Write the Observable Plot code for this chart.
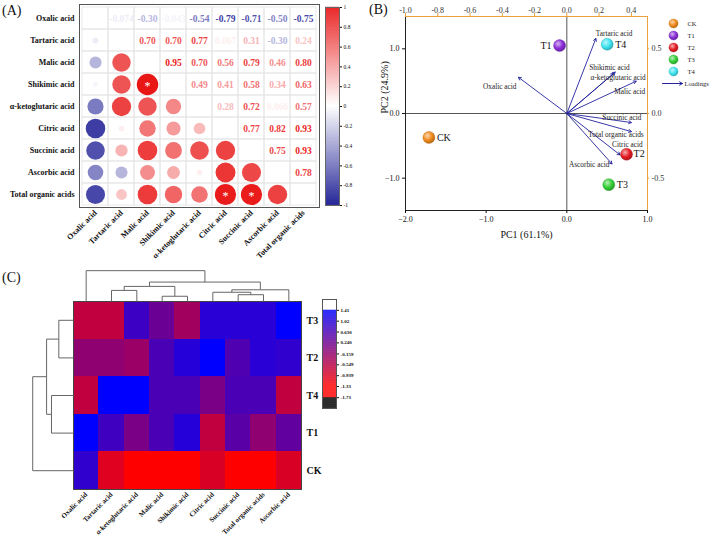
<!DOCTYPE html>
<html><head><meta charset="utf-8">
<script src="https://cdn.jsdelivr.net/npm/d3@7"></script>
<script src="https://cdn.jsdelivr.net/npm/@observablehq/plot@0.6"></script>
<style>
html,body{margin:0;padding:0;background:#fff;}
#wrap{position:relative;width:713px;height:537px;overflow:hidden;background:#fff;font-family:"Liberation Serif",serif;}
.panel{position:absolute;font-size:14px;line-height:1;color:#111;font-family:"Liberation Serif",serif;}
</style></head><body><div id="wrap"></div>
<script>
// ---------- DATA: (A) correlation matrix ----------
const acids = ["Oxalic acid","Tartaric acid","Malic acid","Shikimic acid","α-ketoglutaric acid","Citric acid","Succinic acid","Ascorbic acid","Total organic acids"];
// upper triangle, row by row (columns after the diagonal)
const corrOxalic    = [-0.074,-0.30,-0.043,-0.54,-0.79,-0.71,-0.50,-0.75];
const corrTartaric  = [0.70,0.70,0.77,0.067,0.31,-0.30,0.24];
const corrMalic     = [0.95,0.70,0.56,0.79,0.46,0.80];
const corrShikimic  = [0.49,0.41,0.58,0.34,0.63];
const corrKeto      = [0.28,0.72,0.066,0.57];
const corrCitric    = [0.77,0.82,0.93];
const corrSuccinic  = [0.75,0.93];
const corrAscorbic  = [0.78];
const significantPairs = [["Shikimic acid","Malic acid"],["Total organic acids","Citric acid"],["Total organic acids","Succinic acid"]];
const corrBarTicks = [-1,-0.8,-0.6,-0.4,-0.2,0,0.2,0.4,0.6,0.8,1];

// ---------- DATA: (B) PCA biplot ----------
const scoreNames = ["CK","T1","T2","T3","T4"];
const scorePC1 = [-1.71,-0.09,0.74,0.52,0.50];
const scorePC2 = [-0.37,1.05,-0.63,-1.10,1.07];
const scoreColors = ["#f08a1c","#8a2ed8","#e61c24","#34cf36","#3fe4f0"];
const loadNames = ["Tartaric acid","Oxalic acid","Shikimic acid","α-ketoglutaric acid","Malic acid","Succinic acid","Total organic acids","Citric acid","Ascorbic acid"];
const loadPC1 = [0.18,-0.30,0.30,0.29,0.43,0.40,0.40,0.33,0.28];
const loadPC2 = [0.58,0.28,0.32,0.31,0.25,-0.07,-0.14,-0.32,-0.39];
const pc1Ticks = [-2,-1,0,1];
const pc2Ticks = [-1,0,1];
const loadTopTicks = [-1.0,-0.8,-0.6,-0.4,-0.2,0.0,0.2,0.4];
const loadRightTicks = [-0.5,0.0,0.5];

// ---------- DATA: (C) heatmap ----------
const heatCols = ["Oxalic acid","Tartaric acid","α-ketoglutaric acid","Malic acid","Shikimic acid","Citric acid","Succinic acid","Total organic acids","Ascorbic acid"];
const heatRows = ["T3","T2","T4","T1","CK"];
const heatT3 = [-0.65,-0.65,0.78,0.26,-0.32,0.97,0.97,0.97,1.41];
const heatT2 = [-0.13,-0.13,-0.25,0.62,1.00,1.41,0.56,0.97,0.89];
const heatT4 = [-0.65,1.41,1.41,0.62,0.62,0.10,0.62,0.62,-0.65];
const heatT1 = [1.41,0.72,0.10,0.62,1.00,-0.65,0.45,-0.13,0.37];
const heatCK = [0.89,-1.00,-1.60,-1.60,-1.60,-0.92,-1.50,-1.50,-0.92];
// column dendrogram merges [a, b, height] (leaves 0..8, new nodes from 9)
const colMerges = [[3,4,0.17],[6,7,0.22],[5,10,0.30],[1,2,0.36],[11,8,0.38],[12,9,0.49],[14,13,0.63],[0,15,1.0]];
// row dendrogram merges (leaves 0..4, new nodes from 5)
const rowMerges = [[0,1,0.36],[2,3,0.54],[5,6,0.66],[7,4,1.0]];
const heatTickLabels = ["1.41","1.02","0.630","0.240","-0.159","-0.549","-0.939","-1.33","-1.73"];

// ---------- helpers ----------
const wrap = document.getElementById("wrap");
function place(el, left, top){ el.style.position="absolute"; el.style.left=left+"px"; el.style.top=top+"px"; wrap.appendChild(el); return el; }
const serif = "'Liberation Serif', 'Times New Roman', serif";
const baseStyle = {background:"transparent", overflow:"visible", fontFamily:serif, color:"#111"};
function panelLabel(t, left, top){ const d=document.createElement("div"); d.className="panel"; d.textContent=t; d.style.left=left+"px"; d.style.top=top+"px"; wrap.appendChild(d); }

// ---------- (A) ----------
const corrRows = [corrOxalic,corrTartaric,corrMalic,corrShikimic,corrKeto,corrCitric,corrSuccinic,corrAscorbic];
const grid=[], upper=[], lower=[];
acids.forEach(r=>acids.forEach(c=>grid.push({row:r,col:c})));
corrRows.forEach((vals,i)=>vals.forEach((v,k)=>{const j=i+1+k; upper.push({row:acids[i],col:acids[j],v}); lower.push({row:acids[j],col:acids[i],v});}));
const sig = significantPairs.map(([row,col])=>({row,col}));
const fmt = v => Math.abs(v)<0.1 ? v.toFixed(3) : v.toFixed(2);
const corrColor = {type:"linear", domain:[-1,0,1], range:["#0a0a8c","#ffffff","#e80a0a"], interpolate:"rgb"};

const plotA = Plot.plot({
  width:322, height:262, marginLeft:79, marginRight:3, marginTop:4, marginBottom:55,
  style: baseStyle,
  x:{type:"band", domain:acids, padding:0, label:null},
  y:{type:"band", domain:acids, padding:0, label:null},
  color: corrColor,
  r:{type:"sqrt", domain:[0,1], range:[0,11]},
  marks:[
    Plot.cell(grid,{x:"col",y:"row",fill:"none",stroke:"#e4e4e4",strokeWidth:0.8}),
    Plot.dot(lower,{x:"col",y:"row",r:d=>Math.abs(d.v),fill:"v"}),
    Plot.text(sig,{x:"col",y:"row",text:()=>"*",fill:"white",fontSize:12,dy:2}),
    Plot.text(upper,{x:"col",y:"row",text:d=>fmt(d.v),fill:"v",fontWeight:"bold",fontSize:9.5}),
    Plot.frame({stroke:"#555"}),
    Plot.axisX({anchor:"bottom",tickSize:0,tickPadding:4,tickRotate:-45,fontSize:8,fontWeight:"bold",label:null}),
    Plot.axisY({anchor:"left",tickSize:0,tickPadding:5,fontSize:8,fontWeight:"bold",label:null})
  ]
});
place(plotA,0,0);

const barSteps = d3.range(-1,1,0.005);
const barA = Plot.plot({
  width:50, height:212, marginLeft:0, marginRight:36, marginTop:7, marginBottom:7,
  style: baseStyle,
  x:{domain:[0,1], axis:null},
  y:{domain:[-1,1]},
  color: corrColor,
  marks:[
    Plot.rect(barSteps,{x1:0,x2:1,y1:d=>d,y2:d=>d+0.007,fill:d=>d}),
    Plot.frame({stroke:"#666"}),
    Plot.axisY({anchor:"right",ticks:corrBarTicks,tickFormat:d=>Math.abs(d)<1e-9?"0":(Math.abs(d)===1?String(d):d.toFixed(1)),tickSize:2,tickPadding:2,fontSize:5.5,label:null})
  ]
});
place(barA,325,0);

// ---------- (B) ----------
const orange = "#e9a23b";
const scores = scoreNames.map((n,i)=>({n,x:scorePC1[i],y:scorePC2[i],c:scoreColors[i]}));
const loads = loadNames.map((n,i)=>({n,x:loadPC1[i],y:loadPC2[i]}));
const loadLabelStyle = { // offsets in px from arrow tip, text anchor
  "Tartaric acid":[0,-5,"start"], "Oxalic acid":[-2,9,"end"], "Shikimic acid":[-26,-4,"start"],
  "α-ketoglutaric acid":[-23,4,"start"], "Malic acid":[-22,10,"start"], "Succinic acid":[-29,-5,"start"],
  "Total organic acids":[-43,3,"start"], "Citric acid":[-8,-10,"start"], "Ascorbic acid":[-43,1,"start"]
};
const scoreLabelDx = {CK:8,T1:-8,T2:7,T3:8,T4:8};
const arrowBlue = "#23239c";
const yTop = 1.5, xRight = 1;

const plotB = Plot.plot({
  width:300, height:250, marginLeft:35, marginRight:23, marginTop:16, marginBottom:40,
  style: baseStyle,
  x:{domain:[-2,1]}, y:{domain:[-1.5,1.5]},
  marks:[
    Plot.ruleX([0],{stroke:"#555",strokeWidth:1}),
    Plot.ruleY([0],{stroke:"#555",strokeWidth:1}),
    Plot.ruleX([-2],{stroke:"#222"}), Plot.ruleY([-1.5],{stroke:"#222"}),
    Plot.ruleX([xRight],{stroke:orange}), Plot.ruleY([yTop],{stroke:orange}),
    Plot.arrow(loads,{x1:()=>0,y1:()=>0,x2:d=>d.x*2,y2:d=>d.y*2,stroke:arrowBlue,strokeWidth:0.9,headLength:5}),
    ...loads.map(d=>Plot.text([d],{x:d.x*2,y:d.y*2,text:"n",dx:loadLabelStyle[d.n][0],dy:loadLabelStyle[d.n][1],textAnchor:loadLabelStyle[d.n][2],fontSize:7.3,fill:"#222"})),
    ...scores.map((d,i)=>Plot.dot([d],{x:"x",y:"y",r:6,fill:`url(#ball${i})`,stroke:d3.color(d.c).darker(0.8).formatHex(),strokeWidth:0.4})),
    ...scores.map(d=>Plot.text([d],{x:"x",y:"y",text:"n",dx:scoreLabelDx[d.n],textAnchor:scoreLabelDx[d.n]<0?"end":"start",fontSize:10,fill:"#111"})),
    Plot.axisX({anchor:"bottom",ticks:pc1Ticks,tickSize:3,tickPadding:3,fontSize:8,label:null}),
    Plot.axisY({anchor:"left",ticks:pc2Ticks,tickSize:3,tickPadding:3,fontSize:8,label:null}),
    // top loading axis: orange ticks, dark labels
    Plot.ruleX(loadTopTicks,{x:d=>d*2,y1:()=>yTop,y2:()=>yTop,insetTop:-3,stroke:orange}),
    Plot.text(loadTopTicks,{x:d=>d*2,frameAnchor:"top",dy:-9,text:d=>d.toFixed(1),fontSize:8,fill:"#333"}),
    // right loading axis
    Plot.ruleY(loadRightTicks,{y:d=>d*2,x1:()=>xRight,x2:()=>xRight,insetRight:-2,stroke:orange}),
    Plot.text(loadRightTicks,{y:d=>d*2,frameAnchor:"right",dx:4,textAnchor:"start",text:d=>d.toFixed(1),fontSize:8,fill:"#333"}),
    Plot.text(["PC1 (61.1%)"],{frameAnchor:"bottom",dy:27,fontSize:10,fill:"#111"}),
    Plot.text(["PC2 (24.9%)"],{frameAnchor:"left",dx:-21,rotate:-90,fontSize:10,fill:"#111"})
  ]
});
// sphere gradients
(function(){
  const ns="http://www.w3.org/2000/svg";
  const defs=document.createElementNS(ns,"defs");
  scoreColors.forEach((c,i)=>{
    const g=document.createElementNS(ns,"radialGradient");
    g.setAttribute("id","ball"+i); g.setAttribute("cx","0.38"); g.setAttribute("cy","0.35"); g.setAttribute("r","0.7");
    [[0,d3.interpolateRgb("#ffffff",c)(0.35)],[0.55,c],[1,d3.color(c).darker(0.9).formatHex()]].forEach(([o,col])=>{
      const s=document.createElementNS(ns,"stop"); s.setAttribute("offset",o); s.setAttribute("stop-color",col); g.appendChild(s);
    });
    defs.appendChild(g);
  });
  plotB.insertBefore(defs,plotB.firstChild);
})();
place(plotB,370,0);

// legend for (B)
const legendNames = [...scoreNames,"Loadings"];
const legB = Plot.plot({
  width:58, height:95, marginLeft:7, marginRight:31, marginTop:22, marginBottom:11,
  style: baseStyle,
  x:{domain:[0,1],axis:null},
  y:{type:"point",domain:legendNames,padding:0,axis:null},
  marks:[
    ...scoreNames.map((n,i)=>Plot.dot([n],{x:0.55,y:d=>d,r:4.6,fill:`url(#ball${i})`,stroke:d3.color(scoreColors[i]).darker(0.8).formatHex(),strokeWidth:0.3})),
    Plot.text(scoreNames,{x:1.25,y:d=>d,text:d=>d,textAnchor:"start",fontSize:6.5,fill:"#222"}),
    Plot.arrow(["Loadings"],{x1:0,x2:1,y1:d=>d,y2:d=>d,stroke:arrowBlue,strokeWidth:1,headLength:5}),
    Plot.text(["Loadings"],{x:1,y:d=>d,text:d=>d,dx:2,textAnchor:"start",fontSize:6.5,fill:"#222"})
  ]
});
place(legB,655,0);

// ---------- (C) ----------
const heatData = [heatT3,heatT2,heatT4,heatT1,heatCK];
const cells = [];
heatData.forEach((row,j)=>row.forEach((v,i)=>cells.push({i,j,v})));
function dendro(nLeaves, merges){
  const P=d3.range(nLeaves).map(i=>i+0.5), H=new Array(nLeaves).fill(0), segs=[];
  merges.forEach(([a,b,h])=>{
    segs.push({p1:P[a],h1:H[a],p2:P[a],h2:h});
    segs.push({p1:P[b],h1:H[b],p2:P[b],h2:h});
    segs.push({p1:P[a],h1:h,p2:P[b],h2:h});
    P.push((P[a]+P[b])/2); H.push(h);
  });
  return segs;
}
const topSegs = dendro(heatCols.length,colMerges);
const leftSegs = dendro(heatRows.length,rowMerges);
const topDepth = 0.82, leftDepth = 1.61; // root height in cell units
const heatColor = {type:"linear", domain:[-1.33,1.41], range:["#ff0000","#0000ff"], interpolate:"rgb", clamp:true};

const plotC = Plot.plot({
  width:310, height:279, marginLeft:73, marginRight:9, marginTop:40, marginBottom:51,
  style: baseStyle,
  x:{domain:[0,heatCols.length]},
  y:{domain:[heatRows.length,0], axis:null},
  color: heatColor,
  marks:[
    Plot.rect(cells,{x1:"i",x2:d=>d.i+1,y1:"j",y2:d=>d.j+1,fill:"v",shapeRendering:"crispEdges"}),
    Plot.frame({stroke:"#444"}),
    Plot.link(topSegs,{x1:"p1",x2:"p2",y1:d=>-d.h1*topDepth,y2:d=>-d.h2*topDepth,stroke:"#666",strokeWidth:1}),
    Plot.link(leftSegs,{y1:"p1",y2:"p2",x1:d=>-d.h1*leftDepth,x2:d=>-d.h2*leftDepth,stroke:"#666",strokeWidth:1}),
    Plot.axisX({anchor:"bottom",ticks:heatCols.map((c,i)=>i+0.5),tickFormat:d=>heatCols[Math.floor(d)],tickRotate:-45,tickSize:0,tickPadding:4,fontSize:7,fontWeight:"bold",label:null}),
    Plot.text(heatRows,{x:heatCols.length,y:(d,i)=>i+0.5,text:d=>d,dx:5,textAnchor:"start",fontSize:10,fontWeight:"bold",fill:"#111"})
  ]
});
place(plotC,0,261);

const heatTicks = heatTickLabels.map(Number);
const barC = Plot.plot({
  width:52, height:109, marginLeft:0, marginRight:38, marginTop:0, marginBottom:0,
  style: baseStyle,
  x:{domain:[0,1],axis:null},
  y:{domain:[-2.12,1.80]},
  color:{type:"linear",domain:[-2.12,-1.731,-1.73,-1.33,1.41,1.411,1.80],range:["#000000","#000000","#ff0000","#ff0000","#0000ff","#ffffff","#ffffff"],interpolate:"rgb"},
  marks:[
    Plot.rect(d3.range(-2.12,1.80,0.01),{x1:0,x2:1,y1:d=>d,y2:d=>d+0.014,fill:d=>d}),
    Plot.frame({stroke:"#555"}),
    Plot.axisY({anchor:"right",ticks:heatTicks,tickFormat:d=>heatTickLabels[heatTicks.indexOf(d)],tickSize:2,tickPadding:2,fontSize:5,fontWeight:"bold",label:null})
  ]
});
place(barC,322,299);

panelLabel("(A)",2,4);
panelLabel("(B)",369,3);
panelLabel("(C)",2,271);
</script></body></html>
